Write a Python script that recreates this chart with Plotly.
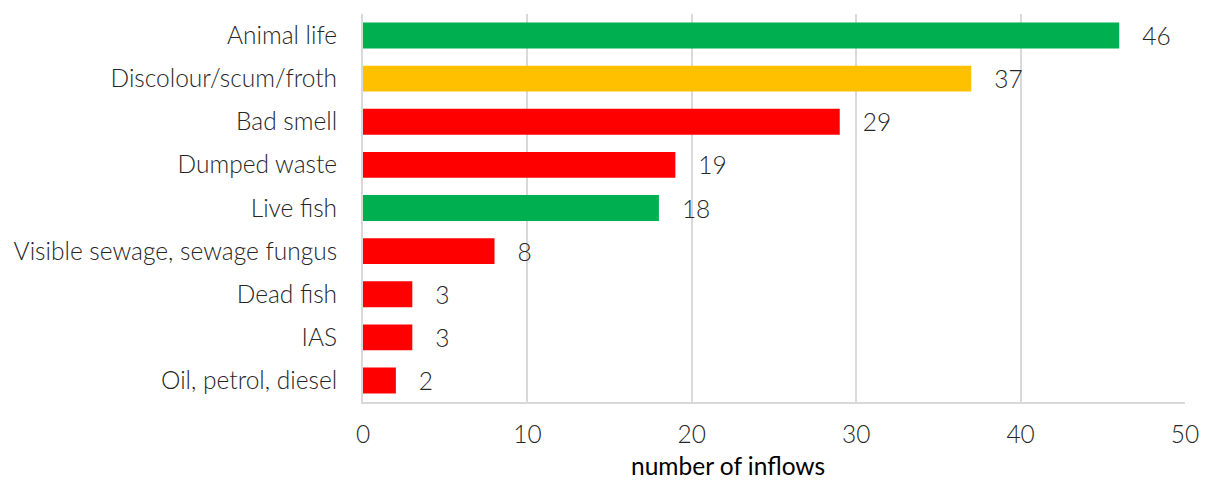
import plotly.graph_objects as go

categories = ["Animal life", "Discolour/scum/froth", "Bad smell", "Dumped waste",
              "Live fish", "Visible sewage, sewage fungus", "Dead fish", "IAS",
              "Oil, petrol, diesel"]
values = [46, 37, 29, 19, 18, 8, 3, 3, 2]
colors = ["#00B050", "#FFC000", "#FF0000", "#FF0000", "#00B050",
          "#FF0000", "#FF0000", "#FF0000", "#FF0000"]
x_title = "number of inflows"

FONT = "Lato"
SIZE = 24.5
TEXT = "#262626"
GRID = "#D9D9D9"

fig = go.Figure(go.Bar(
    y=categories,
    x=values,
    orientation="h",
    marker=dict(color=colors, line=dict(width=0)),
    width=0.6,
    text=[f"   {v}" for v in values],
    textposition="outside",
    constraintext="none",
    textfont=dict(family=FONT, size=SIZE, color=TEXT, weight=300),
    cliponaxis=False,
))

fig.update_layout(
    width=1211, height=480,
    margin=dict(l=363, r=23, t=14, b=78),
    paper_bgcolor="white", plot_bgcolor="white",
    showlegend=False,
    font=dict(family=FONT, size=SIZE, color=TEXT),
    xaxis=dict(
        range=[0, 50], dtick=10, tick0=0,
        showgrid=True, gridcolor=GRID, gridwidth=2,
        zeroline=False,
        showline=True, linecolor=GRID, linewidth=2,
        ticks="", ticklabelstandoff=10,
        tickfont=dict(family=FONT, size=SIZE, color=TEXT, weight=300),
        fixedrange=True,
    ),
    yaxis=dict(
        categoryorder="array", categoryarray=categories,
        autorange="reversed",
        showline=True, linecolor=GRID, linewidth=2,
        showgrid=False, ticks="", ticklabelstandoff=19,
        tickfont=dict(family=FONT, size=SIZE, color=TEXT, weight=300),
        fixedrange=True,
    ),
    annotations=[dict(
        text=x_title, xref="paper", yref="paper",
        x=0.444, y=-0.163, xanchor="center", yanchor="middle",
        showarrow=False,
        font=dict(family=FONT, size=SIZE, color="#000000", weight=400),
    )],
)

fig.write_html("out.html")
